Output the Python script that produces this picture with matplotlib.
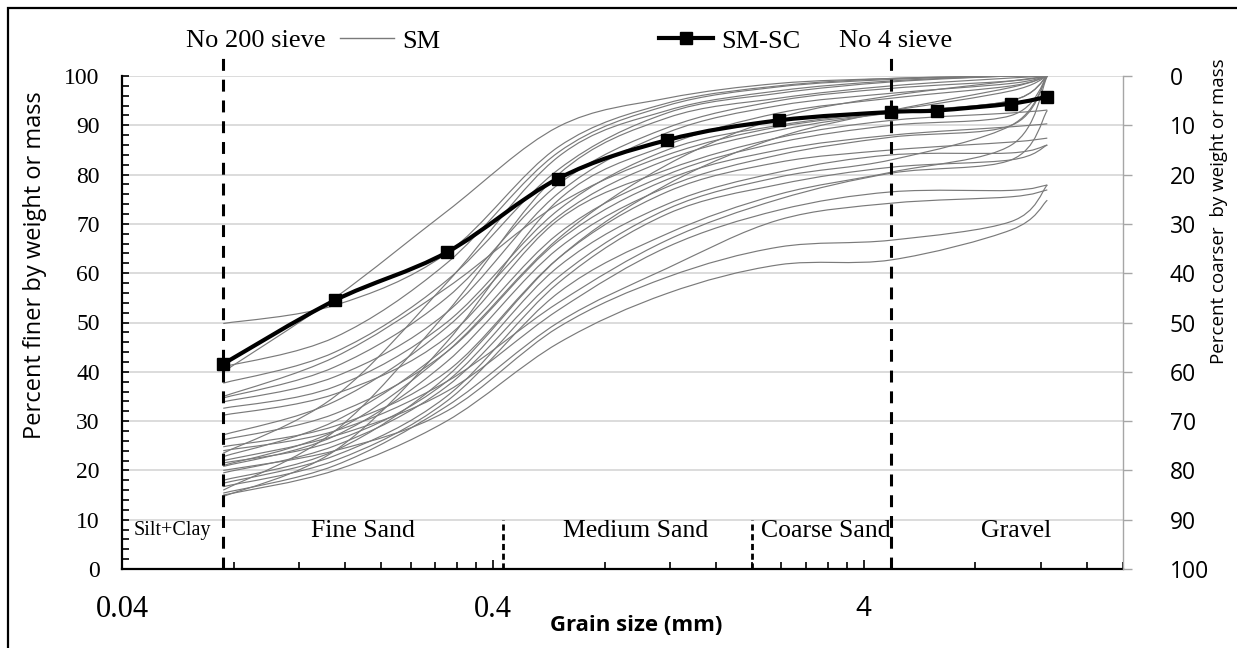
import numpy as np
import matplotlib.pyplot as plt
from matplotlib.path import Path
from matplotlib.patches import PathPatch, Rectangle
from matplotlib.lines import Line2D

plt.rcParams['font.family'] = 'Liberation Serif'

# sieve openings (mm) used for the SM samples
sieve_mm = [0.075, 0.15, 0.3, 0.6, 1.18, 2.36, 4.75, 10, 12.5]

# percent passing, one list per SM sample
sm01 = [40.0, 55.0, 72.5, 89.7, 95.5, 98.5, 99.5, 100, 100]
sm02 = [49.8, 53.5, 64.0, 85.6, 94.5, 98.0, 99.5, 100, 100]
sm03 = [41.0, 47.0, 62.0, 84.5, 94.0, 97.8, 99.3, 100, 100]
sm04 = [23.5, 35.0, 58.0, 83.6, 93.0, 97.0, 99.0, 100, 100]
sm05 = [37.7, 44.0, 58.5, 81.0, 92.5, 96.5, 98.8, 100, 100]
sm06 = [16.0, 28.0, 52.0, 80.0, 91.5, 95.5, 98.0, 99.6, 100]
sm07 = [34.7, 41.0, 55.0, 78.0, 89.5, 95.0, 97.5, 99.0, 100]
sm08 = [33.9, 39.0, 52.0, 76.2, 88.5, 94.0, 96.5, 98.5, 100]
sm09 = [14.7, 24.0, 46.0, 74.8, 86.0, 92.5, 95.5, 98.0, 100]
sm10 = [32.6, 37.0, 50.0, 72.8, 85.0, 90.0, 93.0, 97.0, 100]
sm11 = [27.2, 34.0, 49.0, 71.5, 83.0, 89.0, 92.5, 95.0, 100]
sm12 = [31.2, 35.5, 47.0, 70.8, 81.0, 87.5, 91.0, 92.5, 93.1]
sm13 = [22.8, 30.0, 45.0, 68.0, 80.0, 86.5, 90.0, 92.0, 100]
sm14 = [26.2, 31.5, 44.0, 66.5, 79.0, 85.0, 88.0, 89.7, 90.3]
sm15 = [20.8, 27.0, 42.0, 65.0, 77.5, 84.0, 87.6, 90.0, 100]
sm16 = [24.8, 29.0, 40.0, 63.0, 76.5, 82.5, 85.0, 86.6, 87.4]
sm17 = [21.5, 26.0, 38.0, 61.3, 74.0, 80.5, 84.0, 84.4, 86.0]
sm18 = [19.5, 25.0, 37.0, 59.2, 73.0, 79.5, 83.0, 90.0, 100]
sm19 = [17.4, 23.0, 35.0, 58.0, 72.0, 78.0, 81.5, 83.0, 86.0]
sm20 = [16.7, 22.0, 34.0, 56.0, 68.0, 76.0, 80.5, 86.0, 100]
sm21 = [22.0, 27.0, 36.0, 52.5, 65.3, 72.8, 76.5, 76.8, 77.9]
sm22 = [15.4, 21.0, 33.0, 50.0, 61.0, 70.8, 74.2, 75.5, 76.9]
sm23 = [20.0, 24.0, 32.0, 49.0, 59.2, 65.3, 66.7, 70.5, 77.9]
sm24 = [15.0, 20.0, 30.0, 45.8, 55.9, 61.7, 62.7, 68.8, 74.8]
sm25 = [24.0, 28.0, 38.0, 54.0, 66.7, 75.0, 80.3, 83.0, 93.0]
sm26 = [18.0, 24.0, 39.0, 63.0, 78.0, 87.6, 93.0, 97.7, 100]
sm27 = [21.0, 28.0, 44.0, 67.0, 82.0, 91.5, 96.0, 99.0, 100]
sm28 = [35.0, 43.0, 57.0, 74.0, 84.0, 89.7, 92.5, 95.0, 100]
sm_curves = [sm01, sm02, sm03, sm04, sm05, sm06, sm07, sm08, sm09, sm10,
             sm11, sm12, sm13, sm14, sm15, sm16, sm17, sm18, sm19, sm20,
             sm21, sm22, sm23, sm24, sm25, sm26, sm27, sm28]

# SM-SC sample
smsc_mm = [0.075, 0.15, 0.3, 0.6, 1.18, 2.36, 4.75, 6.3, 10, 12.5]
smsc_pass = [41.6, 54.5, 64.2, 79.2, 87.0, 91.0, 92.7, 93.0, 94.4, 95.8]

# sieves and soil class boundaries (mm)
sieve_lines = [0.075, 4.75]
sieve_names = ['No 200 sieve', 'No 4 sieve']
class_bounds = [0.04, 0.075, 0.425, 2.0, 4.75, 20]
class_names = ['Silt+Clay', 'Fine Sand', 'Medium Sand', 'Coarse Sand', 'Gravel']

x_major = [0.04, 0.4, 4]
x_major_labels = ['0.04', '0.4', '4']
x_minor = ([0.04 * k for k in range(2, 10)] + [0.4 * k for k in range(2, 10)]
           + [4 * k for k in range(2, 6)])


def smooth_path(x, y):
    # Excel-like smoothed line: Catmull-Rom -> cubic bezier in log-x space
    lx = np.log10(x)
    y = np.asarray(y, dtype=float)
    n = len(lx)
    verts = [(x[0], y[0])]
    codes = [Path.MOVETO]
    for i in range(n - 1):
        i0 = max(i - 1, 0)
        i3 = min(i + 2, n - 1)
        c1 = (lx[i] + (lx[i + 1] - lx[i0]) / 6, y[i] + (y[i + 1] - y[i0]) / 6)
        c2 = (lx[i + 1] - (lx[i3] - lx[i]) / 6, y[i + 1] - (y[i3] - y[i]) / 6)
        verts += [(10 ** c1[0], c1[1]), (10 ** c2[0], c2[1]), (x[i + 1], y[i + 1])]
        codes += [Path.CURVE4] * 3
    return Path(verts, codes)


fig = plt.figure(figsize=(12.37, 6.48), dpi=100)
ax = fig.add_axes([122 / 1237, 79 / 648, 1001 / 1237, 493 / 648])
ax.set_xscale('log')
ax.set_xlim(0.04, 20)
ax.set_ylim(0, 100)

for curve in sm_curves:
    ax.add_patch(PathPatch(smooth_path(sieve_mm, curve), fill=False,
                           edgecolor='#7a7a7a', lw=0.85, zorder=3))

ax.add_patch(PathPatch(smooth_path(smsc_mm, smsc_pass), fill=False,
                       edgecolor='black', lw=3.0, zorder=5, capstyle='round'))
ax.plot(smsc_mm, smsc_pass, 's', color='black', ms=9, zorder=6)

# sieve lines
for x in sieve_lines:
    ax.plot([x, x], [0, 104.6], color='black', lw=2.2,
            ls=(0, (3.9, 2.9)), clip_on=False, zorder=4)
for x in class_bounds[2:4]:
    ax.plot([x, x], [0, 10], color='black', lw=2.0,
            ls=(0, (2.2, 1.3)), zorder=4)

# class labels
label_shift = [0, 0, 8, 4, 9]
for lo, hi, name, dx in zip(class_bounds[:-1], class_bounds[1:], class_names,
                            label_shift):
    xm = np.sqrt(lo * hi)
    fs = 14.5 if name == 'Silt+Clay' else 18.5
    ax.annotate(name, (xm, 7.8), xytext=(dx * 0.72, 0), textcoords='offset points',
                ha='center', va='center', fontsize=fs, zorder=6)

# sieve names above the plot
fig.text(256 / 1237, 1 - 41 / 648, sieve_names[0], ha='center', va='center',
         fontsize=19)
fig.text(896 / 1237, 1 - 41 / 648, sieve_names[1], ha='center', va='center',
         fontsize=19)

ax.set_xticks(x_major, labels=x_major_labels)
ax.set_xticks(x_minor, minor=True)
ax.xaxis.set_minor_formatter(plt.NullFormatter())
ax.tick_params(axis='x', which='major', direction='in', length=6.5, width=1.2,
               labelsize=22, pad=19)
ax.tick_params(axis='x', which='minor', direction='in', length=5, width=1.2)
ax.get_xticklabels()[2].set_fontfamily('Open Sans')
ax.get_xticklabels()[2].set_fontsize(20)

ax.set_yticks(np.arange(0, 101, 10))
ax.set_yticks(np.arange(0, 101, 2), minor=True)
ax.tick_params(axis='y', which='both', direction='in', length=5, width=1.2,
               labelsize=17, pad=16)
ax.yaxis.grid(True, color='#d9d9d9', lw=1.3)
ax.set_axisbelow(True)

for side in ['top', 'right']:
    ax.spines[side].set_visible(False)
ax.spines['left'].set_linewidth(1.6)
ax.spines['bottom'].set_linewidth(1.6)

ax.set_ylabel('Percent finer by weight or mass', fontfamily='Open Sans',
              fontsize=17)
ax.yaxis.set_label_coords(-0.087, 0.617)
ax.yaxis.label.set_va('center')
ax.set_xlabel('Grain size (mm)', fontfamily='Open Sans', fontweight='bold',
              fontsize=16)
ax.xaxis.set_label_coords(0.5135, -0.1136)
ax.xaxis.label.set_va('center')

ax2 = ax.twinx()
ax2.set_ylim(100, 0)
ax2.set_yticks(np.arange(0, 101, 10))
for side in ['top', 'left', 'bottom']:
    ax2.spines[side].set_visible(False)
ax2.spines['right'].set_color('#a6a6a6')
ax2.spines['right'].set_linewidth(1.0)
ax2.tick_params(axis='y', direction='out', length=6.5, width=1.0, color='#a6a6a6',
                labelsize=16.5, pad=27)
for lbl in ax2.get_yticklabels():
    lbl.set_fontfamily('Open Sans')
ax2.set_ylabel('Percent coarser  by weight or mass', fontfamily='Open Sans',
               fontsize=13.5)
ax2.yaxis.set_label_coords(1.096, 0.726)
ax2.yaxis.label.set_va('center')

handles = [Line2D([], [], color='#7a7a7a', lw=1.0),
           Line2D([], [], color='black', lw=3.0, marker='s', ms=9)]
fig.legend(handles, ['SM', 'SM-SC'], loc='center left',
           bbox_to_anchor=(340 / 1237, 1 - 41 / 648), ncol=2, frameon=False,
           fontsize=19, handlelength=2.05, handletextpad=0.3, columnspacing=8.3,
           borderpad=0, borderaxespad=0)

# outer frame
fig.add_artist(Rectangle((8 / 1237, -0.1), 1.2, 1 - 8 / 648 + 0.1,
                         transform=fig.transFigure, fill=False,
                         edgecolor='black', lw=1.6))

fig.savefig('out.png', dpi=100)
